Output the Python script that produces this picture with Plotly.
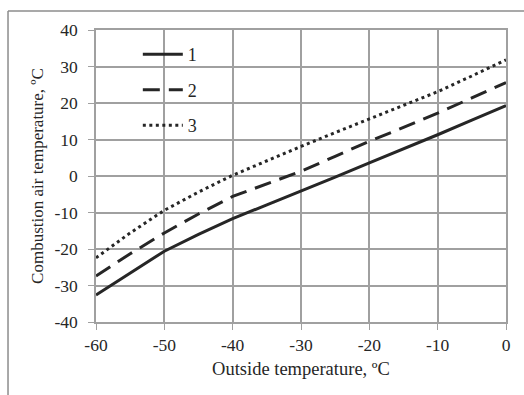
import plotly.graph_objects as go

outside_temp = [-60, -55, -50, -45, -40, -35, -30, -25, -20, -15, -10, -5, 0]
series_1 = [-32.6, -26.5, -20.6, -16.0, -11.7, -7.9, -4.2, -0.3, 3.6, 7.4, 11.3, 15.3, 19.3]
series_2 = [-27.4, -21.3, -15.6, -10.4, -5.6, -2.1, 1.3, 5.4, 9.5, 13.3, 17.2, 21.4, 25.6]
series_3 = [-22.4, -15.6, -9.4, -4.4, 0.2, 4.2, 8.1, 11.9, 15.7, 19.4, 23.1, 27.4, 31.8]
names = ["1", "2", "3"]
x_ticks = [-60, -50, -40, -30, -20, -10, 0]
x_ticklabels = ["-60", "-50", "-40", "-30", "-20", "-10", "0"]
y_ticks = [-40, -30, -20, -10, 0, 10, 20, 30, 40]
y_ticklabels = ["-40", "-30", "-20", "-10", "0", "10", "20", "30", "40"]

font = "Liberation Serif"
line_color = "#262626"
grid_color = "#a0a0a0"

fig = go.Figure()
dashes = ["solid", "17px,9px", "3px,3.5px"]
for i, (ys, nm) in enumerate(zip([series_1, series_2, series_3], names)):
    fig.add_trace(go.Scatter(
        x=outside_temp, y=ys, name=nm, mode="lines",
        legendgroup=nm,
        line=dict(color=line_color, width=3, dash=dashes[i]),
    ))

fig.update_layout(
    width=524, height=395,
    margin=dict(l=96, r=18, t=30, b=73),
    paper_bgcolor="white", plot_bgcolor="white",
    font=dict(family=font, size=17, color="#262626"),
    showlegend=True,
    legend=dict(x=0.102, y=0.979, xanchor="left", yanchor="top",
                bgcolor="rgba(0,0,0,0)", font=dict(size=18, family=font),
                tracegroupgap=9, itemwidth=40),
    xaxis=dict(range=[-60, 0], tickvals=x_ticks, ticktext=x_ticklabels, showgrid=True,
               gridcolor=grid_color, gridwidth=1.5, zeroline=False,
               showline=True, linecolor=grid_color, linewidth=1.5,
               mirror=True, ticks="outside", ticklen=6, tickcolor=grid_color,
               title=dict(text="Outside temperature, ºC", standoff=8,
                          font=dict(size=18.5, family=font)),
               tickfont=dict(size=17.5, family=font)),
    yaxis=dict(range=[-40, 40], tickvals=y_ticks, ticktext=y_ticklabels, showgrid=True,
               gridcolor=grid_color, gridwidth=1.5, zeroline=False,
               showline=True, linecolor=grid_color, linewidth=1.5,
               mirror=True, ticks="outside", ticklen=6, tickcolor=grid_color,
               ticklabelstandoff=7,
               title=dict(text="Combustion air temperature, ºC", standoff=6,
                          font=dict(size=17, family=font)),
               tickfont=dict(size=17.5, family=font)),
)

# outer chart border (top and left edges visible)
fig.add_shape(type="line", xref="paper", yref="paper",
              x0=-0.2146, x1=1.1, y0=1.065, y1=1.065,
              line=dict(color="#8c8c8c", width=1.5))
fig.add_shape(type="line", xref="paper", yref="paper",
              x0=-0.2146, x1=-0.2146, y0=1.065, y1=-0.3,
              line=dict(color="#8c8c8c", width=1.5))

fig.write_html("out.html")
